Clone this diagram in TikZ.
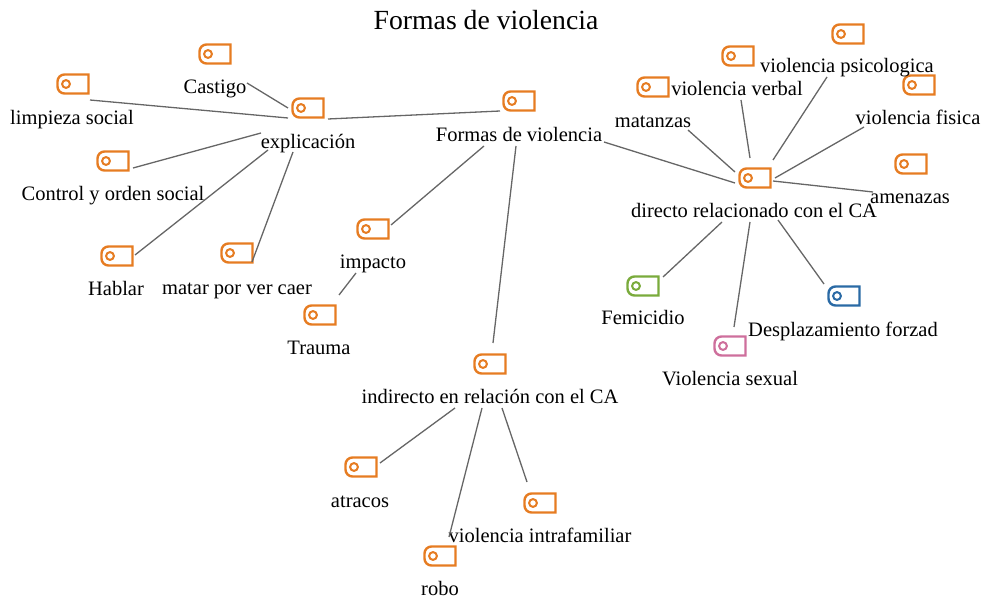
\documentclass[tikz,border=0pt]{standalone}
\usepackage{fontspec}
\setmainfont{Liberation Serif}
\usetikzlibrary{calc}
\definecolor{icorange}{HTML}{E67C22}
\definecolor{icgreen}{HTML}{7AAB3C}
\definecolor{icpink}{HTML}{CE6F9C}
\definecolor{icblue}{HTML}{2A6AA5}
\definecolor{lnk}{HTML}{666666}
\tikzset{
  iconbox/.style={minimum width=31pt,minimum height=19pt,inner sep=0pt,outer sep=0pt},
  lbl/.style={inner sep=0pt,text height=15.3pt,text depth=0.7pt,font=\fontsize{20.5pt}{22pt}\selectfont,text=black},
  ttl/.style={inner sep=0pt,text height=21pt,text depth=1pt,font=\fontsize{27.7pt}{30pt}\selectfont,text=black},
  conn/.style={draw=lnk,line width=1.3pt}
}
\newcommand{\tagicon}[5]{%
  \node[iconbox] (#1) at (#2,#3) {};
  \draw[#4,line width=2.4pt,line join=miter] (#1.north east) [rounded corners=7pt] -- (#1.north west) -- (#1.south west) [sharp corners] -- (#1.south east) -- cycle;
  \draw[#4,line width=2pt] ($(#1.center)+(-7,0)$) circle (3.9pt);
}
\newcommand{\lnk}[6]{\draw[conn] ($(#1)+(#2,#3)$) -- ($(#4)+(#5,#6)$);}
\begin{document}
\begin{tikzpicture}[x=1pt,y=-1pt]
\useasboundingbox (0,0) rectangle (989,601);
\node[ttl] (title) at (486,20) {Formas de violencia};
\tagicon{iCastigo}{215}{54}{icorange}{}
\tagicon{iLimpieza}{73}{84}{icorange}{}
\tagicon{iExpl}{308}{108}{icorange}{}
\tagicon{iControl}{113}{161}{icorange}{}
\tagicon{iHablar}{117}{256}{icorange}{}
\tagicon{iMatar}{237}{253}{icorange}{}
\tagicon{iFormas}{519}{101}{icorange}{}
\tagicon{iImpacto}{373}{229}{icorange}{}
\tagicon{iTrauma}{320}{315}{icorange}{}
\tagicon{iIndirecto}{490}{364}{icorange}{}
\tagicon{iAtracos}{361}{467}{icorange}{}
\tagicon{iIntra}{540}{503}{icorange}{}
\tagicon{iRobo}{440}{556}{icorange}{}
\tagicon{iDirecto}{755}{178}{icorange}{}
\tagicon{iMatanzas}{653}{87}{icorange}{}
\tagicon{iVerbal}{738}{56}{icorange}{}
\tagicon{iPsic}{848}{34}{icorange}{}
\tagicon{iFisica}{919}{85}{icorange}{}
\tagicon{iAmenazas}{911}{164}{icorange}{}
\tagicon{iFemicidio}{643}{286}{icgreen}{}
\tagicon{iSexual}{730}{346}{icpink}{}
\tagicon{iDespl}{844}{296}{icblue}{}
\node[lbl] (Castigo) at (215,86) {Castigo};
\node[lbl] (Limpieza) at (72,117) {limpieza social};
\node[lbl] (Expl) at (308,141) {explicación};
\node[lbl] (Control) at (113,193) {Control y orden social};
\node[lbl] (Hablar) at (116,288) {Hablar};
\node[lbl] (Matar) at (237,287) {matar por ver caer};
\node[lbl] (Formas) at (519,134) {Formas de violencia};
\node[lbl] (Impacto) at (373,261) {impacto};
\node[lbl] (Trauma) at (319,347) {Trauma};
\node[lbl] (Indirecto) at (490,396) {indirecto en relación con el CA};
\node[lbl] (Atracos) at (360,500) {atracos};
\node[lbl] (Intra) at (540,535) {violencia intrafamiliar};
\node[lbl] (Robo) at (440,588) {robo};
\node[lbl] (Directo) at (754,210) {directo relacionado con el CA};
\node[lbl] (Matanzas) at (653,120) {matanzas};
\node[lbl] (Verbal) at (737,88) {violencia verbal};
\node[lbl] (Psic) at (847,65) {violencia psicologica};
\node[lbl] (Fisica) at (918,117) {violencia fisica};
\node[lbl] (Amenazas) at (910,196) {amenazas};
\node[lbl] (Femicidio) at (643,317) {Femicidio};
\node[lbl] (Sexual) at (730,378) {Violencia sexual};
\node[lbl] (Despl) at (843,329) {Desplazamiento forzad};
\lnk{Castigo}{32}{-3}{iExpl}{-20}{0}
\lnk{iLimpieza}{17}{16}{iExpl}{-20}{10}
\lnk{iExpl}{20}{11}{iFormas}{-19}{10}
\lnk{iControl}{20}{7}{Expl}{-47}{-8}
\lnk{iHablar}{18}{-1}{Expl}{-40}{9}
\lnk{iMatar}{15}{9}{Expl}{-15}{11}
\lnk{Formas}{85}{8}{iDirecto}{-20}{5}
\lnk{iImpacto}{18}{-4}{Formas}{-35}{12}
\lnk{iIndirecto}{3}{-21}{Formas}{-3}{12}
\lnk{Impacto}{-34}{34}{iImpacto}{-17}{44}
\lnk{Matanzas}{35}{10}{iDirecto}{-20}{-6}
\lnk{Verbal}{4}{12}{iDirecto}{-5}{-20}
\lnk{Psic}{-20}{12}{iDirecto}{18}{-18}
\lnk{Fisica}{-54}{10}{iDirecto}{20}{0}
\lnk{iDirecto}{18}{3}{Amenazas}{-37}{-4}
\lnk{Directo}{-32}{12}{iFemicidio}{20}{-9}
\lnk{Directo}{-4}{12}{iSexual}{4}{-19}
\lnk{Directo}{24}{10}{iDespl}{-20}{-12}
\lnk{Indirecto}{-35}{12}{iAtracos}{19}{-4}
\lnk{Indirecto}{-8}{12}{Intra}{-91}{2}
\lnk{Indirecto}{12}{12}{iIntra}{-13}{-21}
\end{tikzpicture}
\end{document}
